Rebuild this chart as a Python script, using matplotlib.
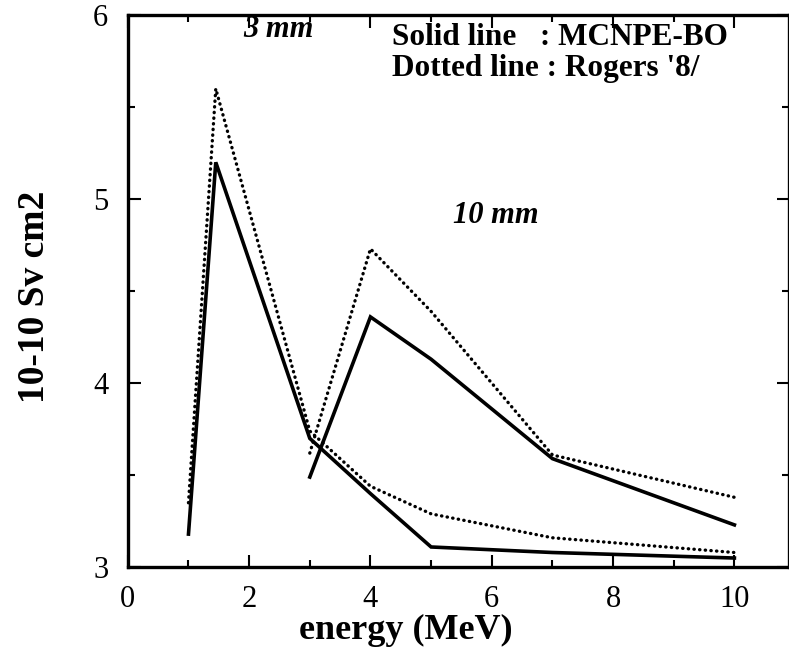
import matplotlib
matplotlib.use("Agg")
import matplotlib.pyplot as plt
from matplotlib.ticker import MultipleLocator

# energies (MeV) and dose conversion values (10^-10 Sv cm2)
e_3mm = [1.0, 1.45, 3.0, 4.0, 5.0, 7.0, 10.0]
mcnpe_3mm = [3.18, 5.20, 3.70, 3.40, 3.11, 3.08, 3.05]
rogers_3mm = [3.35, 5.60, 3.74, 3.44, 3.29, 3.16, 3.08]

e_10mm = [3.0, 4.0, 5.0, 7.0, 10.0]
mcnpe_10mm = [3.49, 4.36, 4.13, 3.59, 3.23]
rogers_10mm = [3.62, 4.73, 4.39, 3.61, 3.38]

xticks = [0, 2, 4, 6, 8, 10]
yticks = [3, 4, 5, 6]

plt.rcParams['font.family'] = ['Liberation Serif', 'DejaVu Serif']

fig = plt.figure(figsize=(7.89, 6.55), dpi=100)
ax = fig.add_axes([0.162, 0.134, 0.838, 0.843])

dotted = dict(color='black', lw=2.4, linestyle=(0, (0.1, 1.6)),
              dash_capstyle='round')
solid = dict(color='black', lw=2.6, solid_joinstyle='miter')

ax.plot(e_3mm, mcnpe_3mm, **solid)
ax.plot(e_3mm, rogers_3mm, **dotted)
ax.plot(e_10mm, mcnpe_10mm, **solid)
ax.plot(e_10mm, rogers_10mm, **dotted)

ax.set_xlim(0, 10.9)
ax.set_ylim(3, 6)
ax.set_xticks(xticks)
ax.set_yticks(yticks)
ax.xaxis.set_minor_locator(MultipleLocator(1))
ax.yaxis.set_minor_locator(MultipleLocator(0.5))
ax.tick_params(which='both', direction='in', top=True, right=True, width=1.5,
               labelsize=22)
ax.tick_params(axis='x', pad=13)
ax.tick_params(axis='y', pad=14)
ax.tick_params(which='major', length=9)
ax.tick_params(which='minor', length=5)
for s in ax.spines.values():
    s.set_linewidth(2.4)

ax.set_xlabel('energy (MeV)', fontsize=26, fontweight='bold')
ax.xaxis.set_label_coords(0.42, -0.085)
ax.set_ylabel('10-10 Sv cm2', fontsize=27, fontweight='bold')
ax.yaxis.set_label_coords(-0.115, 0.49)

ax.text(2.48, 5.92, '3 mm', fontsize=22, fontweight='bold', style='italic',
        ha='center', va='center')
ax.text(6.07, 4.91, '10 mm', fontsize=22, fontweight='bold', style='italic',
        ha='center', va='center')
ax.text(4.35, 5.88, 'Solid line   : MCNPE-BO', fontsize=22.5, fontweight='bold',
        ha='left', va='center')
ax.text(4.35, 5.71, "Dotted line : Rogers '8/", fontsize=22.5, fontweight='bold',
        ha='left', va='center')

fig.savefig('out.png', dpi=100)
